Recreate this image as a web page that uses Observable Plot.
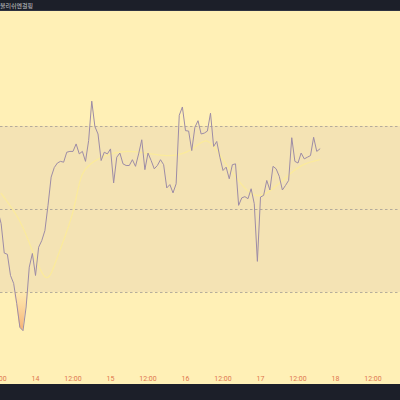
<!DOCTYPE html>
<html><head><meta charset="utf-8">
<script src="https://cdn.jsdelivr.net/npm/d3@7"></script>
<script src="https://cdn.jsdelivr.net/npm/@observablehq/plot@0.6"></script>
<style>
html,body{margin:0;padding:0;background:#1c1f29;width:400px;height:400px;overflow:hidden}
#top{height:11px;color:#c9c9cc;font:6px "Noto Sans CJK KR";line-height:11px;white-space:nowrap;box-sizing:border-box;border-bottom:1px solid #2e3240}
#chart svg{display:block}
</style></head><body>
<div id="top">불리쉬엔걸핑</div>
<div id="chart"></div>
<script>
// RSI values, hourly from 13th 12:00 (UTC)
const rsiStart = Date.UTC(2024, 2, 13, 12);
const rsiValues = [49.6,46.6,39.5,39.2,34.1,32.2,27.3,21.6,20.8,26.5,36.1,39.4,34.1,40.9,42.5,44.9,51.0,57.8,60.1,61.2,
61.6,61.4,63.8,64.0,64.0,65.8,63.4,64.0,61.6,66.6,76.1,70.0,68.2,61.8,63.8,63.4,64.6,56.4,62.6,63.6,
61.0,60.6,60.6,62.0,60.4,63.4,66.8,59.6,63.6,61.8,59.8,60.6,62.0,60.8,55.2,56.0,54.0,56.2,72.7,74.7,
69.0,68.9,64.2,69.8,71.4,68.2,68.4,68.9,73.2,65.2,66.4,62.6,59.4,60.2,57.4,60.8,61.0,51.0,52.8,53.1,
52.6,55.0,51.4,37.5,53.0,53.4,57.0,54.7,60.4,59.8,58.0,54.7,55.8,57.0,67.3,61.6,61.2,63.6,62.2,62.6,
63.0,67.4,64.0,64.6];
// smoothed RSI line
const maTimes = ["2024-03-13T13:00Z","2024-03-13T18:00Z","2024-03-13T22:00Z","2024-03-14T03:00Z","2024-03-14T07:00Z",
"2024-03-14T12:00Z","2024-03-14T15:00Z","2024-03-14T21:00Z","2024-03-15T06:00Z","2024-03-15T18:00Z","2024-03-16T02:00Z",
"2024-03-16T07:00Z","2024-03-16T12:00Z","2024-03-16T18:00Z","2024-03-16T22:00Z","2024-03-17T02:00Z","2024-03-17T07:00Z",
"2024-03-17T13:00Z","2024-03-17T19:00Z"];
const maValues = [53.9,48.5,42,33.8,38.5,49.5,58.5,62.5,64,63,64.5,66.5,62,56,53.5,54,57,60.5,62];
const levels = [70, 50, 30];
const tickDates = ["2024-03-13T12:00Z","2024-03-14T00:00Z","2024-03-14T12:00Z","2024-03-15T00:00Z","2024-03-15T12:00Z",
"2024-03-16T00:00Z","2024-03-16T12:00Z","2024-03-17T00:00Z","2024-03-17T12:00Z","2024-03-18T00:00Z","2024-03-18T12:00Z"];
const tickLabels = ["12:00","14","12:00","15","12:00","16","12:00","17","12:00","18","12:00"];

const rsi = rsiValues.map((v, i) => ({t: new Date(rsiStart + i * 3600e3), v}));
const ma = maTimes.map((t, i) => ({t: new Date(t), v: maValues[i]}));
const ticks = tickDates.map(d => new Date(d));
const labelMap = new Map(ticks.map((d, i) => [+d, tickLabels[i]]));
const x0 = new Date(Date.UTC(2024, 2, 13, 12, 48)), x1 = new Date(Date.UTC(2024, 2, 18, 20, 48));

const defs = () => {
  const g = d3.create("svg:defs");
  g.html(`<linearGradient id="os" gradientUnits="userSpaceOnUse" x1="0" y1="281" x2="0" y2="322">
    <stop offset="0" stop-color="#f7b27a" stop-opacity="0.1"/>
    <stop offset="1" stop-color="#f39a5c" stop-opacity="0.8"/></linearGradient>`);
  return g.node();
};

const chart = Plot.plot({
  width: 400, height: 373,
  marginTop: 0, marginLeft: 0, marginRight: 0, marginBottom: 12,
  style: {background: "#fff0b6", overflow: "hidden"},
  x: {type: "utc", domain: [x0, x1], range: [0, 400], axis: null},
  y: {domain: [30, 70], range: [281, 115], axis: null},
  marks: [
    defs,
    Plot.rect([{a: x0, b: x1, lo: 30, hi: 70}], {x1: "a", x2: "b", y1: "lo", y2: "hi", fill: "#f4e3b4"}),
    Plot.ruleY(levels, {stroke: "#a39d94", strokeDasharray: "2.5,2.5", strokeWidth: 0.8}),
    Plot.areaY(rsi, {x: "t", y1: 30, y2: d => Math.min(d.v, 30), fill: "url(#os)", curve: "linear"}),
    Plot.line(ma, {x: "t", y: "v", stroke: "#fcec96", strokeWidth: 1.3, strokeOpacity: 0.8, curve: "natural", clip: true}),
    Plot.line(rsi, {x: "t", y: "v", stroke: "#9d8ca6", strokeWidth: 1, clip: true}),
    Plot.axisX(ticks, {tickSize: 0, tickPadding: 4, tickFormat: d => labelMap.get(+d), fill: "#e0764e", fontSize: 7, fontFamily: "Roboto"})
  ]
});
document.getElementById("chart").appendChild(chart);
</script></body></html>
